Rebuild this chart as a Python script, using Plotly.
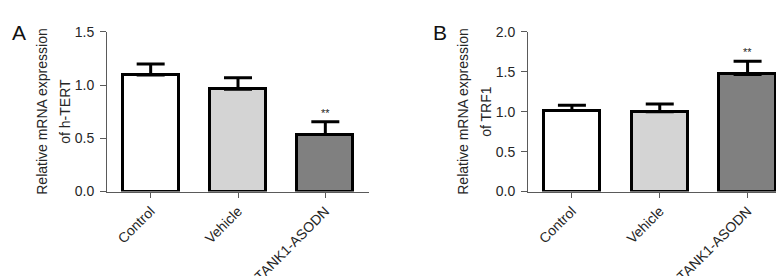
import plotly.graph_objects as go

categories = ["Control", "Vehicle", "TANK1-ASODN"]
bar_colors = ["#ffffff", "#d4d4d4", "#808080"]

hTERT_values = [1.095, 0.962, 0.536]
hTERT_errors = [0.105, 0.107, 0.121]

TRF1_values = [1.016, 1.000, 1.468]
TRF1_errors = [0.065, 0.097, 0.166]

sig_labels = ["", "", "**"]

W, H = 784, 276
FONT = "Liberation Sans, Arial, Helvetica, sans-serif"
TXT = "#262626"
AX = "#5a5a5a"

fig = go.Figure()

panels = [
    dict(x="x", y="y", vals=hTERT_values, errs=hTERT_errors),
    dict(x="x2", y="y2", vals=TRF1_values, errs=TRF1_errors),
]
for p in panels:
    fig.add_trace(go.Bar(
        x=categories, y=p["vals"], xaxis=p["x"], yaxis=p["y"],
        width=0.64,
        marker=dict(color=bar_colors, line=dict(color="black", width=3)),
        error_y=dict(type="data", array=p["errs"], arrayminus=[0] * len(p["errs"]),
                     symmetric=False, color="black", thickness=3, width=14),
        showlegend=False, hoverinfo="x+y",
    ))

y0, y1 = 1 - 190 / H, 1 - 17.3 / H
axis_common = dict(showline=True, linecolor=AX, linewidth=1, ticks="outside",
                   tickcolor=AX, tickwidth=1, showgrid=False, zeroline=False,
                   tickfont=dict(family=FONT, size=14, color=TXT))

fig.update_layout(
    width=W, height=H, margin=dict(l=0, r=0, t=0, b=0),
    paper_bgcolor="white", plot_bgcolor="white", bargap=0,
    xaxis=dict(domain=[99 / W, 361 / W], range=[-0.5, 2.5], tickangle=-45,
               ticklen=5, anchor="y", **axis_common),
    yaxis=dict(domain=[y0, y1], range=[0, 1.5], tickvals=[0, 0.5, 1.0, 1.5],
               tickformat=".1f", ticklen=6, ticklabelstandoff=3, anchor="x", **axis_common),
    xaxis2=dict(domain=[520 / W, 783.5 / W], range=[-0.5, 2.5], tickangle=-45,
                ticklen=5, anchor="y2", **axis_common),
    yaxis2=dict(domain=[y0, y1], range=[0, 2.0], tickvals=[0, 0.5, 1.0, 1.5, 2.0],
                tickformat=".1f", ticklen=6, ticklabelstandoff=3, anchor="x2", **axis_common),
)

ymid = (y0 + y1) / 2
ann = []
for xpx, text in [(34, "Relative mRNA expression"), (57, "of h-TERT"),
                  (455, "Relative mRNA expression"), (478, "of TRF1")]:
    ann.append(dict(x=xpx / W, y=ymid, xref="paper", yref="paper", text=text,
                    textangle=-90, showarrow=False, xanchor="center", yanchor="middle",
                    font=dict(family=FONT, size=14, color=TXT)))
for xpx, text in [(2, "A"), (423, "B")]:
    ann.append(dict(x=xpx / W, y=1 - 3 / H, xref="paper", yref="paper", text=text,
                    showarrow=False, xanchor="left", yanchor="top",
                    font=dict(family=FONT, size=21, color="#111111")))
for p in panels:
    for c, v, e, s in zip(categories, p["vals"], p["errs"], sig_labels):
        if s:
            ann.append(dict(x=c, y=v + e, xref=p["x"], yref=p["y"], text=s,
                            showarrow=False, yanchor="bottom", yshift=1,
                            font=dict(family=FONT, size=11, color=TXT)))
fig.update_layout(annotations=ann)

fig.write_html("out.html")
